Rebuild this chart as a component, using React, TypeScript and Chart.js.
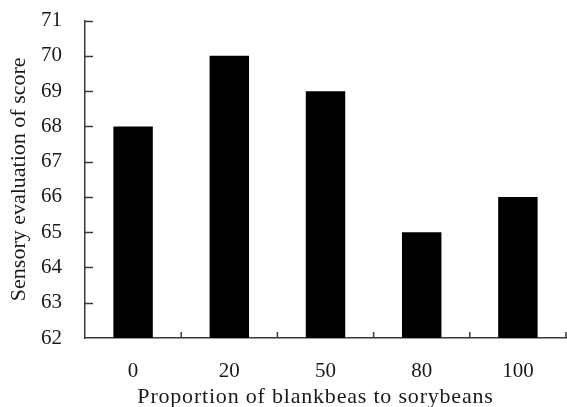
import React, { useEffect, useRef } from "react";
import { Chart, registerables } from "chart.js";

Chart.register(...registerables);

const categories = ["0", "20", "50", "80", "100"];
const scores = [68, 70, 69, 65, 66];
const yMin = 62;
const yMax = 71;
const xTitle = "Proportion of blankbeas to sorybeans";
const yTitle = "Sensory evaluation of score";

const FONT = "'Liberation Serif', 'Times New Roman', serif";
const TEXT = "#1a1a1a";
const AXIS = "#3a3a3a";

const tickPlugin = {
  id: "innerTicks",
  afterDraw(chart: any) {
    const ctx = chart.ctx;
    const x = chart.scales.x;
    const y = chart.scales.y;
    const area = chart.chartArea;
    ctx.save();
    ctx.strokeStyle = AXIS;
    ctx.lineWidth = 1.5;
    ctx.beginPath();
    y.ticks.forEach((t: any) => {
      const py = Math.round(y.getPixelForValue(t.value)) + 0.5;
      if (t.value === yMin) return;
      ctx.moveTo(area.left, py);
      ctx.lineTo(area.left + 8, py);
    });
    for (let i = 0; i < categories.length; i++) {
      const px = x.getPixelForValue(i) + (x.getPixelForValue(1) - x.getPixelForValue(0)) / 2;
      ctx.moveTo(px, area.bottom);
      ctx.lineTo(px, area.bottom - 6);
    }
    ctx.stroke();
    // x title
    ctx.fillStyle = TEXT;
    ctx.font = `22px ${FONT}`;
    try {
      (ctx as any).letterSpacing = "0.8px";
    } catch (e) {}
    ctx.textAlign = "center";
    ctx.textBaseline = "alphabetic";
    ctx.fillText(xTitle, (area.left + area.right) / 2 - 10, 403);
    ctx.restore();
  },
};

export default function App() {
  const ref = useRef<HTMLCanvasElement | null>(null);
  useEffect(() => {
    if (!ref.current) return;
    const chart = new Chart(ref.current, {
      type: "bar",
      data: {
        labels: categories,
        datasets: [
          {
            data: scores,
            backgroundColor: "#000000",
            borderWidth: 0,
            categoryPercentage: 1,
            barPercentage: 0.41,
          },
        ],
      },
      options: {
        animation: false,
        responsive: false,
        maintainAspectRatio: false,
        layout: { padding: { top: 0, right: 1, left: 0, bottom: 0 } },
        plugins: { legend: { display: false }, tooltip: { enabled: false } },
        scales: {
          x: {
            grid: { display: false, drawTicks: false },
            border: { display: true, color: AXIS, width: 1.5 },
            ticks: { color: TEXT, font: { family: FONT, size: 21 }, padding: 21 },
            afterFit(scale: any) {
              scale.height = 69;
            },
          },
          y: {
            min: yMin,
            max: yMax,
            grid: { display: false, drawTicks: true, tickLength: 15 },
            border: { display: true, color: AXIS, width: 1.5 },
            ticks: { stepSize: 1, color: TEXT, font: { family: FONT, size: 21 }, padding: 8 },
            title: {
              display: true,
              text: yTitle,
              color: TEXT,
              font: { family: FONT, size: 22 },
              padding: { top: 6, bottom: 0 },
            },
            afterFit(scale: any) {
              scale.width = 85;
            },
          },
        },
      },
      plugins: [tickPlugin],
    });
    return () => chart.destroy();
  }, []);
  return (
    <div style={{ position: "fixed", left: 0, top: 0, width: 567, height: 407, background: "#fff" }}>
      <canvas ref={ref} width={567} height={407} style={{ display: "block" }} />
    </div>
  );
}
